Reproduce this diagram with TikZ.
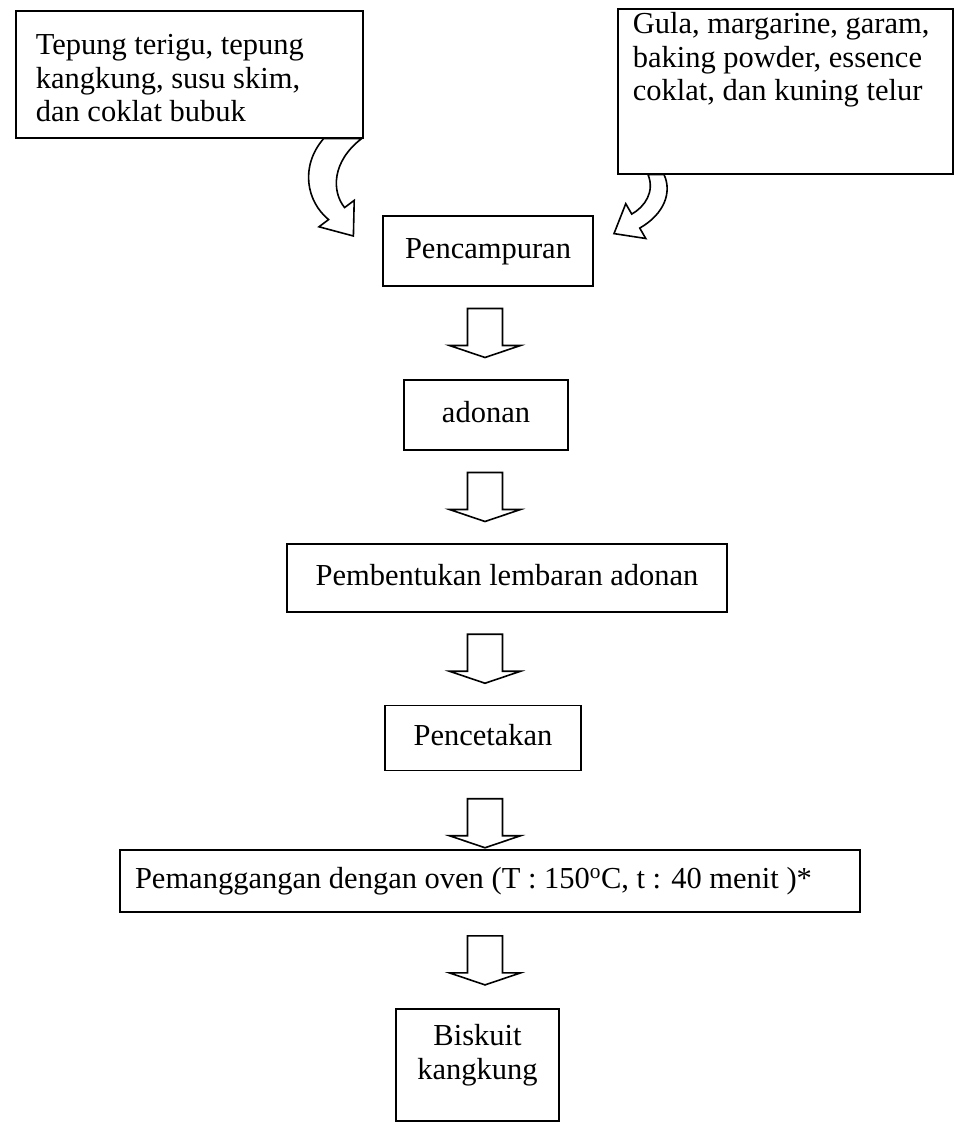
\documentclass[tikz,border=0pt]{standalone}
\usepackage{fontspec}
\setmainfont{Liberation Serif}
\usetikzlibrary{calc}

\tikzset{
    kotak/.style = {draw, line width = 1.6pt, inner sep = 0pt,
        text height = 21pt, text depth = 7pt,
        font = \fontsize{30.5pt}{33.5pt}\selectfont},
    blok/.style = {draw, line width = 1.6pt, fill = white, line join = miter}
}

\newcommand{\panahblok}[3][0]{%
    \path ($(#2.south)!.5!(#3.north)$) coordinate (tengah);
    \draw[blok, shift = {($(tengah -| sumbu) + (0,#1)$)}]
        (-17.5,-24.5) -- (-17.5,12.5) -- (-35.5,12.5) -- (0,24.5)
        -- (35.5,12.5) -- (17.5,12.5) -- (17.5,-24.5) -- cycle;
}

\begin{document}
\begin{tikzpicture}[x = 1pt, y = -1pt]
        \useasboundingbox (0,0) rectangle (954,1134);
        \coordinate (sumbu) at (485,0);

        \node[kotak, anchor = north west, minimum width = 347pt, text width = 307pt,
            align = flush left, inner ysep = 4pt, text height = 40pt, text depth = 79pt]
            (bahanA) at (15,10) {Tepung terigu, tepung\\ kangkung, susu skim,\\ dan coklat bubuk};
        \node[kotak, anchor = north west, minimum width = 335pt, text width = 305pt,
            align = flush left, inner ysep = 4pt, text depth = 136pt]
            (bahanB) at (617,8) {Gula, margarine, garam,\\ baking powder, essence\\ coklat, dan kuning telur};

        \node[kotak, minimum width = 210pt, minimum height = 70pt] (campur) at (488,251) {Pencampuran};
        \node[kotak, minimum width = 164pt, minimum height = 70pt] (adonan) at (486,415) {adonan};
        \node[kotak, minimum width = 440pt, minimum height = 68pt] (bentuk) at (507,578) {Pembentukan lembaran adonan};
        \node[kotak, minimum width = 196pt, minimum height = 65pt] (cetak) at (483,738) {Pencetakan};
        \node[kotak, minimum width = 740pt, minimum height = 62pt, text width = 710pt, align = flush left]
            (panggang) at (490,881) {Pemanggangan dengan oven (T : 150\textsuperscript{o}C, t : 40 menit )*};
        \node[kotak, anchor = north, minimum width = 163pt, text width = 130pt, align = flush center,
            inner ysep = 4pt, text height = 33pt, text depth = 71pt]
            (biskuit) at (477.5,1008) {Biskuit\\ kangkung};

        \draw[blok, shift = {(bahanA.south east)}]
        (-40,0) .. controls (-64,28) and (-57,63) .. (-35,81)
        -- (-44.6,88.2) -- (-10.2,97.4) -- (-9.4,61.8) -- (-19,69)
        .. controls (-32,53) and (-32,23) .. (-2,0) -- cycle;

        \draw[blok, shift = {(bahanB.south west)}]
        (31,0) .. controls (38,17) and (28,32) .. (14.75,39.5)
        -- (8.75,29.1) -- (-3,59) -- (28.75,63.9) -- (22.75,53.5)
        .. controls (48,39) and (55,17) .. (47,0) -- cycle;

        \panahblok{campur}{adonan}
        \panahblok{adonan}{bentuk}
        \panahblok{bentuk}{cetak}
        \panahblok[13]{cetak}{panggang}
        \panahblok{panggang}{biskuit}
    \end{tikzpicture}
\end{document}
